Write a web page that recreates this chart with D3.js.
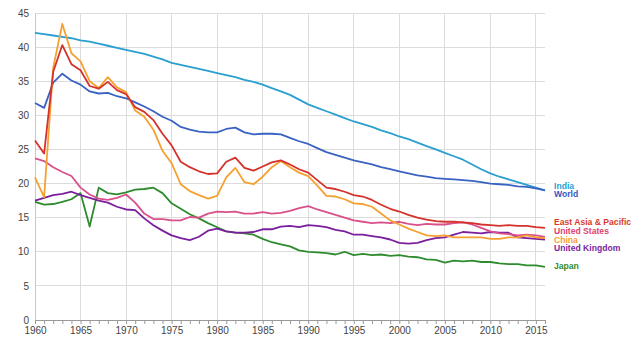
<!DOCTYPE html>
<html><head><meta charset="utf-8">
<script src="https://cdn.jsdelivr.net/npm/d3@7"></script>
<style>body{margin:0;background:#fff;}svg{display:block;font-family:"Liberation Sans",Arial,sans-serif;}</style>
</head><body><svg id="c" width="640" height="340"></svg>
<script>
const years = d3.range(1960, 2017);
const india = [42.1,41.9,41.7,41.5,41.3,41.0,40.8,40.5,40.2,39.9,39.6,39.3,39.0,38.6,38.2,37.7,37.4,37.1,36.8,36.5,36.2,35.9,35.6,35.2,34.9,34.5,34.0,33.5,33.0,32.3,31.6,31.1,30.6,30.1,29.6,29.1,28.7,28.3,27.8,27.4,26.9,26.5,26.0,25.5,25.0,24.5,24.0,23.5,22.8,22.1,21.5,21.0,20.6,20.2,19.8,19.4,19.0];
const world = [31.8,31.1,34.8,36.1,35.1,34.5,33.5,33.2,33.3,32.8,32.5,31.9,31.3,30.6,29.8,29.2,28.3,27.9,27.6,27.5,27.5,28.0,28.2,27.5,27.2,27.3,27.3,27.2,26.7,26.2,25.8,25.2,24.6,24.2,23.8,23.4,23.1,22.8,22.4,22.1,21.8,21.5,21.2,21.0,20.8,20.7,20.6,20.5,20.4,20.2,20.0,19.9,19.8,19.6,19.5,19.3,19.0];
const eap = [26.3,24.4,36.4,40.3,37.5,36.6,34.3,33.9,34.9,33.7,33.1,31.2,30.5,29.3,27.3,25.6,23.2,22.4,21.8,21.4,21.5,23.2,23.8,22.3,21.9,22.5,23.1,23.4,22.8,22.1,21.6,20.5,19.4,19.2,18.8,18.3,18.1,17.6,16.9,16.3,15.9,15.4,15.0,14.7,14.5,14.4,14.4,14.3,14.2,14.0,13.9,13.8,13.9,13.8,13.8,13.6,13.5];
const us = [23.7,23.3,22.4,21.7,21.1,19.4,18.4,17.8,17.6,17.9,18.4,17.2,15.6,14.8,14.8,14.6,14.6,15.1,15.0,15.6,15.9,15.8,15.9,15.6,15.6,15.8,15.6,15.7,16.0,16.4,16.7,16.2,15.8,15.4,15.0,14.6,14.4,14.2,14.3,14.2,14.4,14.1,13.9,14.1,14.0,14.0,14.2,14.3,14.0,13.5,13.0,12.7,12.6,12.4,12.5,12.4,12.2];
const china = [20.9,18.0,37.0,43.4,39.1,37.9,35.0,34.0,35.6,34.1,33.4,30.7,29.8,27.9,24.8,23.0,19.9,18.9,18.3,17.8,18.2,20.9,22.3,20.2,19.9,21.0,22.4,23.3,22.4,21.6,21.1,19.7,18.2,18.1,17.7,17.1,17.0,16.6,15.6,14.6,14.0,13.4,12.9,12.4,12.3,12.4,12.1,12.1,12.1,12.1,11.9,11.9,12.1,12.1,12.4,12.1,12.0];
const uk = [17.5,17.9,18.3,18.5,18.8,18.3,17.9,17.5,17.2,16.6,16.2,16.1,14.9,13.9,13.1,12.4,12.0,11.7,12.2,13.1,13.4,13.0,12.8,12.8,12.9,13.3,13.3,13.7,13.8,13.6,13.9,13.8,13.6,13.2,13.0,12.5,12.5,12.3,12.1,11.8,11.3,11.2,11.3,11.7,12.0,12.1,12.5,12.9,12.8,12.7,12.9,12.8,12.8,12.1,12.0,11.9,11.8];
const japan = [17.3,16.9,17.0,17.3,17.7,18.6,13.7,19.4,18.6,18.4,18.7,19.1,19.2,19.4,18.6,17.1,16.3,15.5,14.9,14.2,13.6,13.0,12.8,12.7,12.5,11.9,11.4,11.1,10.8,10.2,10.0,9.9,9.8,9.6,10.0,9.5,9.7,9.5,9.6,9.4,9.5,9.3,9.2,8.9,8.8,8.4,8.7,8.6,8.7,8.5,8.5,8.3,8.2,8.2,8.0,8.0,7.8];
const names = ["India","World","East Asia & Pacific","United States","China","United Kingdom","Japan"];
const yTicks = [0,5,10,15,20,25,30,35,40,45];
const xTicks = [1960,1965,1970,1975,1980,1985,1990,1995,2000,2005,2010,2015];

const series = [
  {name:names[0], v:india, c:"#2a9fd0", lc:"#2a9fd0", ly:185.5},
  {name:names[1], v:world, c:"#3a62c2", lc:"#3358bd", ly:194},
  {name:names[6], v:japan, c:"#2e8b2e", lc:"#2e8b2e", ly:266},
  {name:names[5], v:uk, c:"#7c1f9e", lc:"#7c1f9e", ly:248},
  {name:names[3], v:us, c:"#d9508a", lc:"#e04070", ly:230.5},
  {name:names[4], v:china, c:"#f5a030", lc:"#f5a030", ly:239.5},
  {name:names[2], v:eap, c:"#d4322a", lc:"#d93a2a", ly:222}
];

const svg = d3.select("#c");
const x = d3.scaleLinear().domain([1960,2016]).range([35,545]);
const y = d3.scaleLinear().domain([0,45]).range([320,13]);

// grid
svg.append("g").selectAll("line").data(yTicks.slice(1)).join("line")
  .attr("x1",35).attr("x2",545).attr("y1",d=>y(d)).attr("y2",d=>y(d))
  .attr("stroke","#dcdcdc").attr("stroke-width",1).attr("shape-rendering","crispEdges");
svg.append("g").selectAll("line").data(xTicks.slice(1)).join("line")
  .attr("x1",d=>x(d)).attr("x2",d=>x(d)).attr("y1",y(45)).attr("y2",y(0))
  .attr("stroke","#dcdcdc").attr("stroke-width",1).attr("shape-rendering","crispEdges");

// axes
const yAxis = d3.axisLeft(y).tickValues(yTicks).tickSize(0).tickPadding(6);
const gy = svg.append("g").attr("transform","translate(35,0)").call(yAxis);
gy.select(".domain").attr("stroke","#c8c8c8");
gy.selectAll("text").attr("font-size",10).attr("fill","#444");

const xAxis = d3.axisBottom(x).tickValues(years).tickSize(4).tickFormat(d=>xTicks.includes(d)?d:"").tickPadding(3);
const gx = svg.append("g").attr("transform","translate(0,320)").call(xAxis);
gx.select(".domain").attr("stroke","#999");
gx.selectAll(".tick line").attr("stroke","#999");
gx.selectAll("text").attr("font-size",10).attr("fill","#444");

// lines
const line = d3.line().x((d,i)=>x(years[i])).y(d=>y(d));
svg.append("g").selectAll("path").data(series).join("path")
  .attr("d",d=>line(d.v)).attr("fill","none").attr("stroke",d=>d.c)
  .attr("stroke-width",1.8).attr("stroke-linejoin","round");

// labels
svg.append("g").selectAll("text").data(series).join("text")
  .attr("x",554).attr("y",d=>d.ly).attr("dy","0.35em")
  .attr("font-size",8.6).attr("font-weight","bold").attr("fill",d=>d.lc)
  .text(d=>d.name);
</script></body></html>
